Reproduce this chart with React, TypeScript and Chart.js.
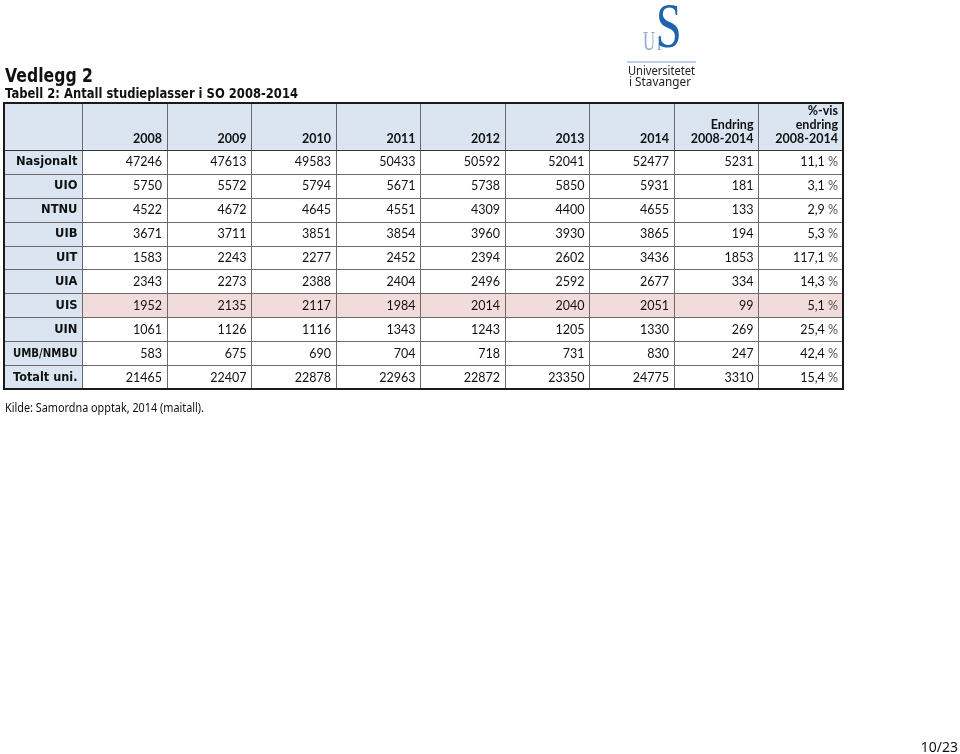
import { useEffect, useRef } from 'react';
import { Chart, registerables } from 'chart.js';

Chart.register(...registerables);

// ---------- data ----------
const years = ['2008', '2009', '2010', '2011', '2012', '2013', '2014'];
const endringHeader = ['Endring', '2008-2014'];
const prosentHeader = ['%-vis', 'endring', '2008-2014'];
const institutions = ['Nasjonalt', 'UIO', 'NTNU', 'UIB', 'UIT', 'UIA', 'UIS', 'UIN', 'UMB/NMBU', 'Totalt uni.'];
const highlighted = 'UIS';

const nasjonalt = [47246, 47613, 49583, 50433, 50592, 52041, 52477];
const uio = [5750, 5572, 5794, 5671, 5738, 5850, 5931];
const ntnu = [4522, 4672, 4645, 4551, 4309, 4400, 4655];
const uib = [3671, 3711, 3851, 3854, 3960, 3930, 3865];
const uit = [1583, 2243, 2277, 2452, 2394, 2602, 3436];
const uia = [2343, 2273, 2388, 2404, 2496, 2592, 2677];
const uis = [1952, 2135, 2117, 1984, 2014, 2040, 2051];
const uin = [1061, 1126, 1116, 1343, 1243, 1205, 1330];
const umb = [583, 675, 690, 704, 718, 731, 830];
const totaltUni = [21465, 22407, 22878, 22963, 22872, 23350, 24775];

const endring = [5231, 181, 133, 194, 1853, 334, 99, 269, 247, 3310];
const prosent = ['11,1', '3,1', '2,9', '5,3', '117,1', '14,3', '5,1', '25,4', '42,4', '15,4'];

const rows = [nasjonalt, uio, ntnu, uib, uit, uia, uis, uin, umb, totaltUni];

const title = 'Vedlegg 2';
const subtitle = 'Tabell 2: Antall studieplasser i SO 2008-2014';
const source = 'Kilde: Samordna opptak, 2014 (maitall).';
const pageNo = '10/23';

// ---------- layout / style ----------
const LABEL_COL_START = -0.94; // label column width in column units
const N_COLS = 9;
const HEADER_ROWS = 2;
const HEADER_BG = '#dbe5f1';
const HIGHLIGHT_BG = '#f2dcdb';
const NUM_FONT = '12.5px Lato';
const BOLD_FONT = 'bold 12.5px Lato';
const LABEL_FONT = 'bold 11.5px "DejaVu Sans"';

const tablePlugin = {
  id: 'tablePlugin',
  beforeDatasetsDraw(chart: any) {
    const { ctx, scales } = chart;
    const X = (v: number) => scales.x.getPixelForValue(v);
    const Y = (v: number) => scales.y.getPixelForValue(v);
    const nRows = institutions.length;
    ctx.save();
    ctx.fillStyle = HEADER_BG;
    ctx.fillRect(X(LABEL_COL_START), Y(0), X(N_COLS) - X(LABEL_COL_START), Y(HEADER_ROWS) - Y(0));
    ctx.fillRect(X(LABEL_COL_START), Y(HEADER_ROWS), X(0) - X(LABEL_COL_START), Y(HEADER_ROWS + nRows) - Y(HEADER_ROWS));
    const hi = institutions.indexOf(highlighted);
    ctx.fillStyle = HIGHLIGHT_BG;
    ctx.fillRect(X(0), Y(HEADER_ROWS + hi), X(N_COLS) - X(0), Y(HEADER_ROWS + hi + 1) - Y(HEADER_ROWS + hi));

    ctx.lineWidth = 1;
    ctx.strokeStyle = '#6b6b6b';
    const top = Y(0), bottom = Y(HEADER_ROWS + nRows);
    const left = X(LABEL_COL_START), right = X(N_COLS);
    for (let c = 0; c < N_COLS; c++) {
      const px = Math.round(X(c)) + 0.5;
      ctx.beginPath();
      ctx.moveTo(px, top);
      ctx.lineTo(px, bottom);
      ctx.stroke();
    }
    for (let r = HEADER_ROWS + 1; r < HEADER_ROWS + nRows; r++) {
      const py = Math.round(Y(r)) + 0.5;
      ctx.beginPath();
      ctx.moveTo(left, py);
      ctx.lineTo(right, py);
      ctx.stroke();
    }
    ctx.strokeStyle = '#333333';
    ctx.beginPath();
    const hy = Math.round(Y(HEADER_ROWS)) + 0.5;
    ctx.moveTo(left, hy);
    ctx.lineTo(right, hy);
    ctx.stroke();
    ctx.lineWidth = 2;
    ctx.strokeStyle = '#1a1a1a';
    ctx.strokeRect(Math.round(left) + 1, Math.round(top) + 1, Math.round(right - left) - 1, Math.round(bottom - top) - 1);
    ctx.restore();
  },
  afterDatasetsDraw(chart: any) {
    const { ctx, scales } = chart;
    const X = (v: number) => scales.x.getPixelForValue(v);
    const Y = (v: number) => scales.y.getPixelForValue(v);
    ctx.save();
    ctx.fillStyle = '#111111';
    ctx.textBaseline = 'middle';
    ctx.textAlign = 'right';
    ctx.font = BOLD_FONT;
    const lineH = 14;
    const headerBottom = Y(HEADER_ROWS) - 11;
    years.forEach((yr, i) => {
      ctx.fillText(yr, X(i + 1) - 5, headerBottom);
    });
    endringHeader.forEach((t, i) => {
      ctx.fillText(t, X(years.length + 1) - 5, headerBottom - (endringHeader.length - 1 - i) * lineH);
    });
    prosentHeader.forEach((t, i) => {
      ctx.fillText(t, X(years.length + 2) - 5, headerBottom - (prosentHeader.length - 1 - i) * lineH);
    });
    ctx.font = LABEL_FONT;
    const labelMax = X(0) - X(LABEL_COL_START) - 15;
    institutions.forEach((name, r) => {
      ctx.fillText(name, X(0) - 5, Y(HEADER_ROWS + r + 0.5) + 0.5, labelMax);
    });
    ctx.font = NUM_FONT;
    chart.data.datasets.forEach((ds: any, di: number) => {
      const meta = chart.getDatasetMeta(di);
      meta.data.forEach((pt: any, i: number) => {
        const raw = ds.data[i];
        const xr = X(raw.x + 0.5) - 5;
        if (raw.pct) {
          ctx.fillStyle = '#555555';
          ctx.fillText('%', xr, pt.y + 0.5);
          const w = ctx.measureText(' %').width;
          ctx.fillStyle = '#111111';
          ctx.fillText(raw.label, xr - w, pt.y + 0.5);
        } else {
          ctx.fillStyle = '#111111';
          ctx.fillText(raw.label, xr, pt.y + 0.5);
        }
      });
    });
    ctx.restore();
  },
  afterDraw(chart: any) {
    const { ctx } = chart;
    ctx.save();
    ctx.fillStyle = '#111111';
    ctx.textAlign = 'left';
    ctx.textBaseline = 'alphabetic';
    ctx.font = 'bold 20px "DejaVu Sans"';
    ctx.fillText(title, 5, 82, 88);
    ctx.font = 'bold 13.5px "DejaVu Sans"';
    ctx.fillText(subtitle, 5, 98, 293);
    ctx.font = '12.5px "Noto Sans"';
    ctx.fillText(source, 5, 412, 199);
    ctx.textAlign = 'right';
    ctx.font = '14px "Noto Sans"';
    ctx.fillText(pageNo, 958, 752);

    // logo
    ctx.textAlign = 'left';
    ctx.fillStyle = '#8eaed2';
    ctx.save();
    ctx.translate(643, 50);
    ctx.scale(0.6, 1);
    ctx.font = '28px "Liberation Serif"';
    ctx.fillText('U', 0, 0);
    ctx.restore();
    ctx.save();
    ctx.translate(656.5, 50);
    ctx.scale(0.85, 1);
    ctx.font = '19px "Liberation Serif"';
    ctx.fillText('I', 0, 0);
    ctx.restore();
    ctx.save();
    ctx.translate(656, 47);
    ctx.scale(0.72, 1);
    ctx.fillStyle = '#1f63ad';
    ctx.font = '64px "Liberation Serif"';
    ctx.fillText('S', 0, 0);
    ctx.restore();
    ctx.strokeStyle = '#a9c2df';
    ctx.lineWidth = 1.5;
    ctx.beginPath();
    ctx.moveTo(627, 62);
    ctx.lineTo(696, 62);
    ctx.stroke();
    ctx.fillStyle = '#222222';
    ctx.font = '12px "Noto Sans"';
    ctx.textBaseline = 'middle';
    ctx.fillText('Universitetet', 628, 72, 67);
    ctx.fillText('i Stavanger', 629, 83, 62);
    ctx.restore();
  },
};

export default function App() {
  const ref = useRef<HTMLCanvasElement>(null);
  useEffect(() => {
    if (!ref.current) return;
    const datasets = institutions.map((name, r) => {
      const vals: any[] = rows[r].map((v, c) => ({ x: c + 0.5, y: HEADER_ROWS + r + 0.5, label: String(v) }));
      vals.push({ x: years.length + 0.5, y: HEADER_ROWS + r + 0.5, label: String(endring[r]) });
      vals.push({ x: years.length + 1.5, y: HEADER_ROWS + r + 0.5, label: prosent[r], pct: true });
      return { label: name, data: vals, pointRadius: 0, pointHoverRadius: 0, showLine: false };
    });
    const chart = new Chart(ref.current, {
      type: 'scatter',
      data: { datasets },
      options: {
        animation: false,
        responsive: false,
        events: [],
        layout: { padding: { left: 3, right: 117, top: 102, bottom: 365 } },
        scales: {
          x: { type: 'linear', min: LABEL_COL_START, max: N_COLS, display: false },
          y: { type: 'linear', min: 0, max: HEADER_ROWS + institutions.length, reverse: true, display: false },
        },
        plugins: { legend: { display: false }, tooltip: { enabled: false } },
      },
      plugins: [tablePlugin],
    });
    return () => chart.destroy();
  }, []);
  return (
    <div style={{ position: 'absolute', left: 0, top: 0, width: 960, height: 754, background: '#fff' }}>
      <canvas ref={ref} width={960} height={754} />
    </div>
  );
}
